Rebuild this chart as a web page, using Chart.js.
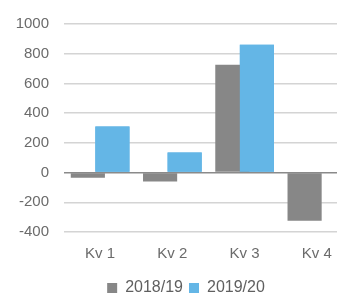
<!DOCTYPE html>
<html>
<head>
<meta charset="utf-8">
<script src="https://cdn.jsdelivr.net/npm/chart.js@4/dist/chart.umd.min.js"></script>
<style>
  html, body { margin: 0; padding: 0; background: #fff; overflow: hidden; }
  #wrap { position: absolute; left: 0; top: 0; width: 372px; height: 306px; }
</style>
</head>
<body>
<div id="wrap"><canvas id="quarterChart"></canvas></div>
<script>
// Data
const quarters = ['Kv 1', 'Kv 2', 'Kv 3', 'Kv 4'];
const season1819 = [-35, -60, 725, -325];
const season1920 = [310, 135, 860, null];
const yTicks = [-400, -200, 0, 200, 400, 600, 800, 1000];

// redraw the second series on top so it covers the overlapping first one
const blueOnTop = {
  id: 'blueOnTop',
  afterDatasetsDraw(chart) {
    const meta = chart.getDatasetMeta(1);
    if (meta && !meta.hidden) meta.controller.draw();
  }
};

document.addEventListener('DOMContentLoaded', function() {
  const ctx = document.getElementById('quarterChart').getContext('2d');
  new Chart(ctx, {
    type: 'bar',
    data: {
      labels: quarters,
      datasets: [{
        label: '2018/19',
        data: season1819,
        backgroundColor: '#878787',
        categoryPercentage: 0.68,
        barPercentage: 1.39
      }, {
        label: '2019/20',
        data: season1920,
        backgroundColor: '#64b6e6',
        categoryPercentage: 0.68,
        barPercentage: 1.39
      }]
    },
    options: {
      responsive: true,
      maintainAspectRatio: false,
      animation: false,
      layout: { padding: { top: 23, right: 0, bottom: 0, left: 0 } },
      plugins: {
        legend: {
          position: 'bottom',
          labels: {
            boxWidth: 10,
            boxHeight: 10,
            padding: 6,
            color: '#5f5f5f',
            font: { family: 'Liberation Sans', size: 16 }
          }
        },
        tooltip: { enabled: false }
      },
      scales: {
        x: {
          grid: { display: false },
          border: { display: false },
          ticks: {
            color: '#6b6b6b',
            padding: 5,
            font: { family: 'Liberation Sans', size: 15 }
          },
          afterFit: function(scale) { scale.height = 42; }
        },
        y: {
          min: -400,
          max: 1000,
          afterBuildTicks: function(scale) {
            scale.ticks = yTicks.map(v => ({ value: v }));
          },
          grid: {
            drawTicks: false,
            lineWidth: 1.5,
            color: function(c) { return c.tick && c.tick.value === 0 ? '#8a8a8a' : '#d4d4d4'; }
          },
          border: { display: false },
          ticks: {
            color: '#6b6b6b',
            padding: 15,
            font: { family: 'Liberation Sans', size: 15 },
            callback: function(value) { return String(value); }
          },
          afterFit: function(scale) { scale.width = 64; }
        },
        // empty axis on the right, only keeps space so the legend stays centred on the full width
        yRight: {
          position: 'right',
          display: true,
          grid: { display: false },
          border: { display: false },
          ticks: { display: false },
          afterFit: function(scale) { scale.width = 19; }
        }
      }
    },
    plugins: [blueOnTop]
  });
});
</script>
</body>
</html>
